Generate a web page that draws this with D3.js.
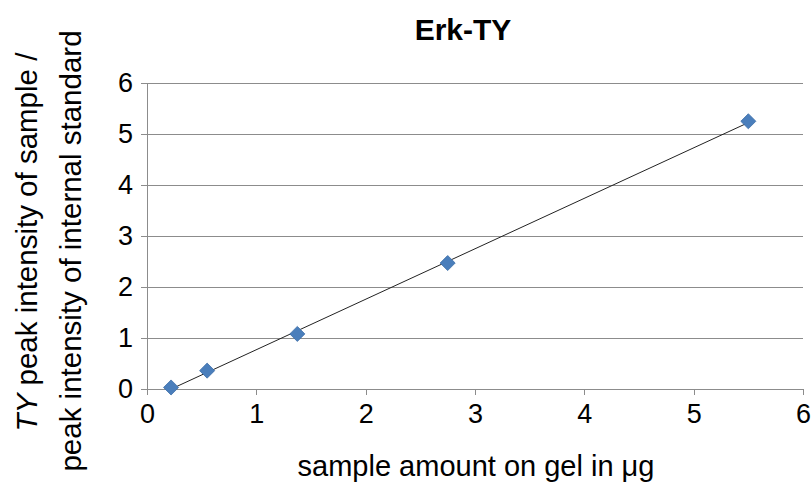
<!DOCTYPE html>
<html>
<head>
<meta charset="utf-8">
<script src="https://cdn.jsdelivr.net/npm/d3@7"></script>
<style>
  html, body { margin: 0; padding: 0; background: #fff; }
  svg { display: block; }
  text { font-family: "Liberation Sans", Arial, Helvetica, sans-serif; fill: #000; }
</style>
</head>
<body>
<svg id="chart" width="811" height="483"></svg>
<script>
// Calibration series: sample amount loaded (µg) vs. TY peak ratio
const sampleAmount = [0.22, 0.55, 1.375, 2.75, 5.5];
const peakRatio = [0.03, 0.36, 1.08, 2.47, 5.25];
const xTicks = [0, 1, 2, 3, 4, 5, 6];
const yTicks = [0, 1, 2, 3, 4, 5, 6];

const svg = d3.select("#chart");
const margin = { left: 147, right: 8, top: 83, bottom: 94 };
const W = 811, H = 483;

const x = d3.scaleLinear().domain([0, 6]).range([margin.left, W - margin.right]);
const y = d3.scaleLinear().domain([0, 6]).range([H - margin.bottom, margin.top]);

const gridColor = "#8c8c8c";

// Horizontal gridlines
svg.append("g")
  .selectAll("line")
  .data(yTicks.filter(d => d > 0))
  .join("line")
  .attr("x1", x(0)).attr("x2", x(6))
  .attr("y1", d => y(d)).attr("y2", d => y(d))
  .attr("stroke", gridColor).attr("stroke-width", 1)
  .attr("shape-rendering", "crispEdges");

// Y axis
const yAxis = svg.append("g")
  .attr("transform", `translate(${x(0)},0)`)
  .call(d3.axisLeft(y).tickValues(yTicks).tickSize(6).tickPadding(8).tickFormat(d3.format("d")));
// X axis
const xAxis = svg.append("g")
  .attr("transform", `translate(0,${y(0)})`)
  .call(d3.axisBottom(x).tickValues(xTicks).tickSize(6).tickPadding(9).tickFormat(d3.format("d")));

[xAxis, yAxis].forEach(g => {
  g.select(".domain").attr("stroke", gridColor).attr("shape-rendering", "crispEdges");
  g.selectAll(".tick line").attr("stroke", gridColor).attr("shape-rendering", "crispEdges");
  g.selectAll(".tick text")
    .attr("font-size", 27)
    .attr("font-family", "Liberation Sans, Arial, sans-serif")
    .attr("fill", "#000");
});

// Least-squares trend line across the sampled range
const n = sampleAmount.length;
const mx = d3.mean(sampleAmount), my = d3.mean(peakRatio);
let sxy = 0, sxx = 0;
for (let i = 0; i < n; i++) {
  sxy += (sampleAmount[i] - mx) * (peakRatio[i] - my);
  sxx += (sampleAmount[i] - mx) ** 2;
}
const slope = sxy / sxx, intercept = my - slope * mx;
const xMin = d3.min(sampleAmount), xMax = d3.max(sampleAmount);
svg.append("line")
  .attr("x1", x(xMin)).attr("y1", y(slope * xMin + intercept))
  .attr("x2", x(xMax)).attr("y2", y(slope * xMax + intercept))
  .attr("stroke", "#222").attr("stroke-width", 1);

// Diamond markers
const diamond = d3.symbol().type(d3.symbolDiamond2).size(145);
svg.append("g")
  .selectAll("path")
  .data(sampleAmount.map((v, i) => [v, peakRatio[i]]))
  .join("path")
  .attr("d", diamond)
  .attr("transform", d => `translate(${x(d[0])},${y(d[1])})`)
  .attr("fill", "#4a7ebb")
  .attr("stroke", "#3d6fa8")
  .attr("stroke-width", 0.8);

// Title
svg.append("text")
  .attr("x", 463).attr("y", 40)
  .attr("text-anchor", "middle")
  .attr("font-size", 30).attr("font-weight", "bold")
  .text("Erk-TY");

// X axis title
svg.append("text")
  .attr("x", 476).attr("y", 476)
  .attr("text-anchor", "middle")
  .attr("font-size", 29)
  .text("sample amount on gel in μg");

// Y axis title (two lines, rotated)
const yt1 = svg.append("text")
  .attr("transform", "translate(37,242) rotate(-90)")
  .attr("text-anchor", "middle")
  .attr("font-size", 29.5);
yt1.append("tspan").attr("font-style", "italic").text("TY");
yt1.append("tspan").text(" peak intensity of sample /");

svg.append("text")
  .attr("transform", "translate(81,251) rotate(-90)")
  .attr("text-anchor", "middle")
  .attr("font-size", 29.5)
  .text("peak intensity of internal standard");
</script>
</body>
</html>
